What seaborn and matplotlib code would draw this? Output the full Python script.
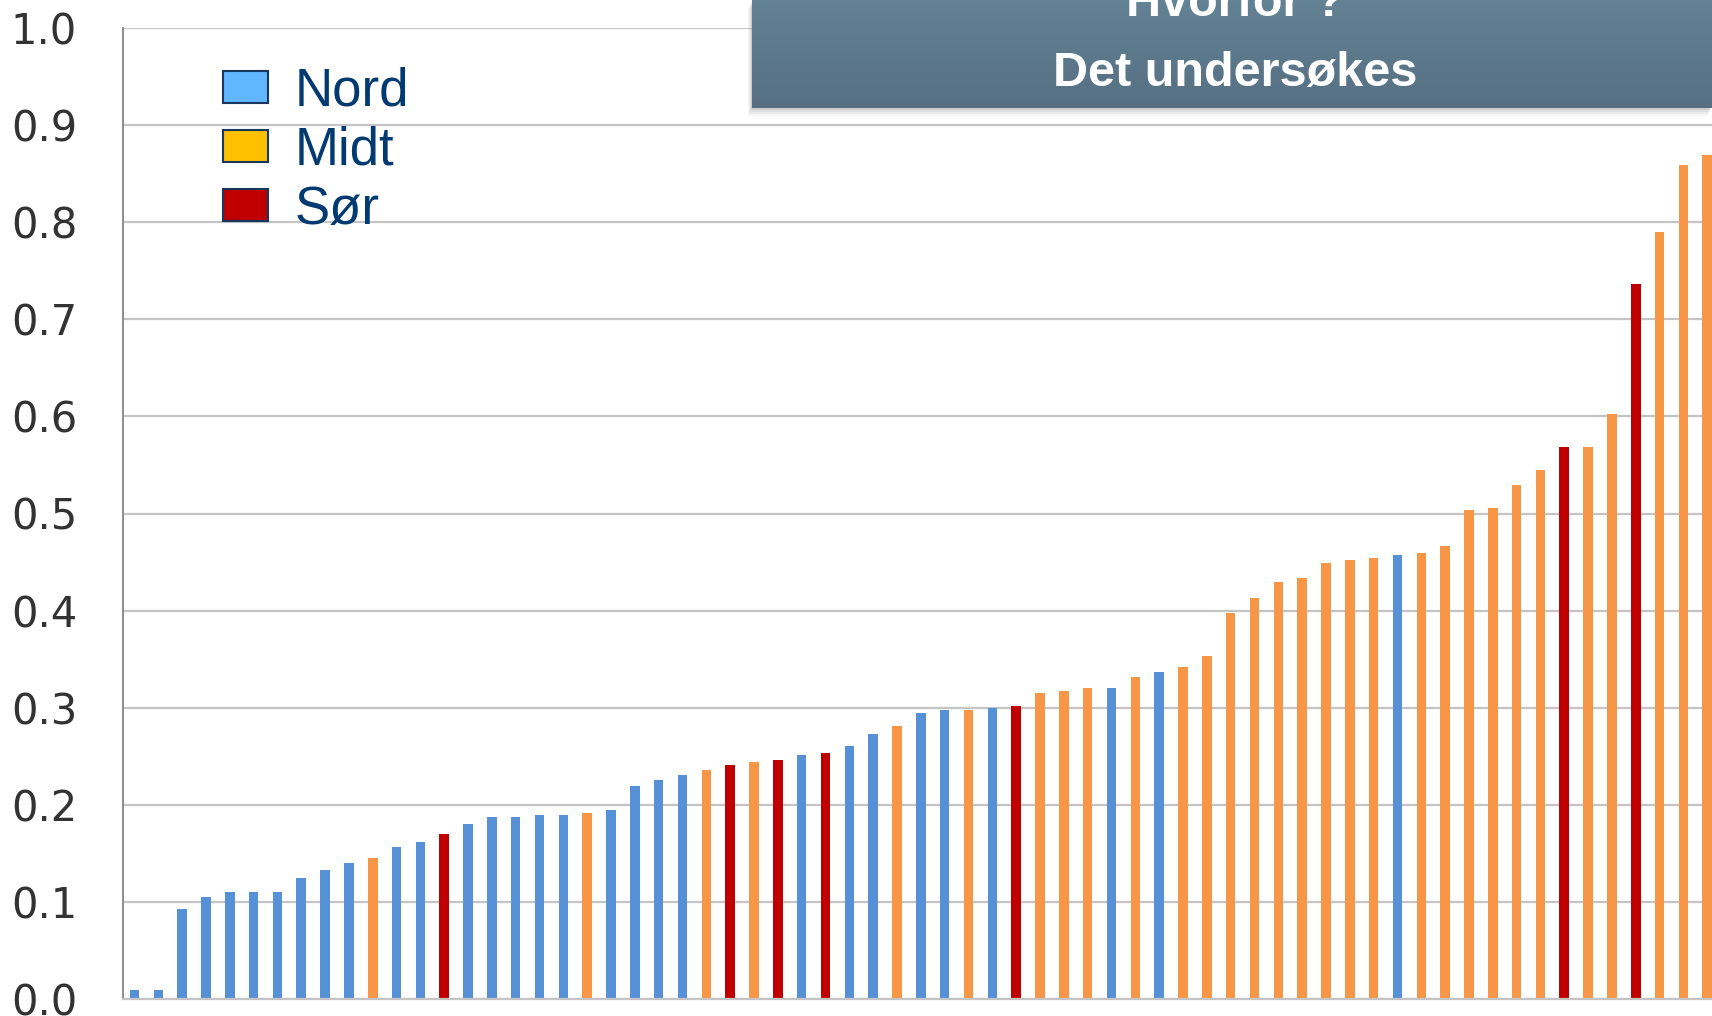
import numpy as np
import pandas as pd
import matplotlib
matplotlib.use("Agg")
import matplotlib.pyplot as plt
from matplotlib.patches import Patch, Rectangle
import seaborn as sns

# bar heights, sorted ascending as in the reference
values = [0.009, 0.009, 0.093, 0.105, 0.110, 0.110, 0.110, 0.125, 0.133, 0.140,
          0.145, 0.157, 0.162, 0.170, 0.180, 0.187, 0.187, 0.190, 0.190, 0.192,
          0.195, 0.219, 0.226, 0.231, 0.236, 0.241, 0.244, 0.246, 0.251, 0.253,
          0.261, 0.273, 0.281, 0.295, 0.298, 0.298, 0.300, 0.302, 0.315, 0.317,
          0.320, 0.320, 0.332, 0.337, 0.342, 0.353, 0.398, 0.413, 0.429, 0.434,
          0.449, 0.452, 0.454, 0.457, 0.459, 0.467, 0.504, 0.506, 0.529, 0.545,
          0.568, 0.568, 0.602, 0.736, 0.790, 0.859, 0.869]

# region of each bar
regions = (["Nord"] * 10
           + ["Midt", "Nord", "Nord", "Sør", "Nord", "Nord", "Nord", "Nord", "Nord", "Midt"]
           + ["Nord", "Nord", "Nord", "Nord", "Midt", "Sør", "Midt", "Sør", "Nord", "Sør"]
           + ["Nord", "Nord", "Midt", "Nord", "Nord", "Midt", "Nord", "Sør", "Midt", "Midt"]
           + ["Midt", "Nord", "Midt", "Nord", "Midt", "Midt", "Midt", "Midt", "Midt", "Midt"]
           + ["Midt", "Midt", "Midt", "Nord", "Midt", "Midt", "Midt", "Midt", "Midt", "Midt"]
           + ["Sør", "Midt", "Midt", "Sør", "Midt", "Midt", "Midt"])

legend_labels = ["Nord", "Midt", "Sør"]
yticks = [0.0, 0.1, 0.2, 0.3, 0.4, 0.5, 0.6, 0.7, 0.8, 0.9, 1.0]

bar_colors = {"Nord": "#5690D6", "Midt": "#F79646", "Sør": "#C00000"}
legend_colors = {"Nord": "#62B6FF", "Midt": "#FFC000", "Sør": "#C00000"}

df = pd.DataFrame({"pos": np.arange(len(values)), "value": values, "region": regions})

sns.set_style("white")
plt.rcParams['font.family'] = ['DejaVu Sans']

fig = plt.figure(figsize=(17.12, 10.16), dpi=100)
ax = fig.add_axes([123 / 1712, 17 / 1016, 1 - 123 / 1712, 971 / 1016])

sns.barplot(data=df, x="pos", y="value", hue="region", palette=bar_colors,
            dodge=False, width=0.40, legend=False, saturation=1, linewidth=0, ax=ax)

ax.set_xlim(-0.48, 66.2)
ax.set_ylim(0, 1.0)
ax.set_yticks(yticks)
ax.set_yticklabels([f"{t:.1f}" for t in yticks])
ax.set_xticks([])
ax.set_xlabel("")
ax.set_ylabel("")
ax.yaxis.grid(True, color="#C4C4C4", linewidth=1.6)
ax.set_axisbelow(True)
for s in ["top", "right"]:
    ax.spines[s].set_visible(False)
ax.spines["left"].set_color("#8C8C8C")
ax.spines["left"].set_linewidth(1.4)
ax.spines["bottom"].set_color("#C4C4C4")
ax.spines["bottom"].set_linewidth(1.6)
ax.tick_params(axis="y", length=12, width=1.4, color="#8C8C8C", pad=21,
               labelsize=30, labelcolor="#333333")

handles = [Patch(facecolor=legend_colors[r], edgecolor="#17375E", linewidth=1.5, label=r)
           for r in legend_labels]
leg = ax.legend(handles=handles, loc="upper left", bbox_to_anchor=(0.063, 0.96),
                frameon=False, fontsize=38, handlelength=0.85, handleheight=0.55,
                handletextpad=0.5, labelspacing=0.17, borderpad=0, borderaxespad=0)
for t in leg.get_texts():
    t.set_color("#003A70")
    t.set_family(["Liberation Sans", "DejaVu Sans"])

# title box in the upper right corner
bx0, bx1 = 752 / 1712, 1.0
by0, by1 = 1 - 108 / 1016, 1.0
for k, a in enumerate([0.10, 0.08, 0.06, 0.04]):
    off = (k + 1) * 2
    fig.patches.append(Rectangle((bx0 - off / 1712 * 0.5, by0 - off / 1016), bx1 - bx0,
                                 by1 - by0, transform=fig.transFigure,
                                 facecolor="#404040", alpha=a, edgecolor="none", zorder=5))
bax = fig.add_axes([bx0, by0, bx1 - bx0, by1 - by0], zorder=6)
grad = np.linspace(0, 1, 100).reshape(-1, 1)
cmap = matplotlib.colors.LinearSegmentedColormap.from_list("box", ["#638294", "#566F83"])
bax.imshow(grad, aspect="auto", cmap=cmap, extent=[0, 1, 0, 1], origin="upper")
bax.set_axis_off()
bax.text(0.503, 1 - 16 / 108, "Hvorfor ?", ha="center", va="baseline", color="white",
         fontsize=35, fontweight="bold", family=["Liberation Sans", "DejaVu Sans"],
         transform=bax.transAxes)
bax.text(0.503, 1 - 86 / 108, "Det undersøkes", ha="center", va="baseline", color="white",
         fontsize=35, fontweight="bold", family=["Liberation Sans", "DejaVu Sans"],
         transform=bax.transAxes)

fig.savefig("out.png", dpi=100)
